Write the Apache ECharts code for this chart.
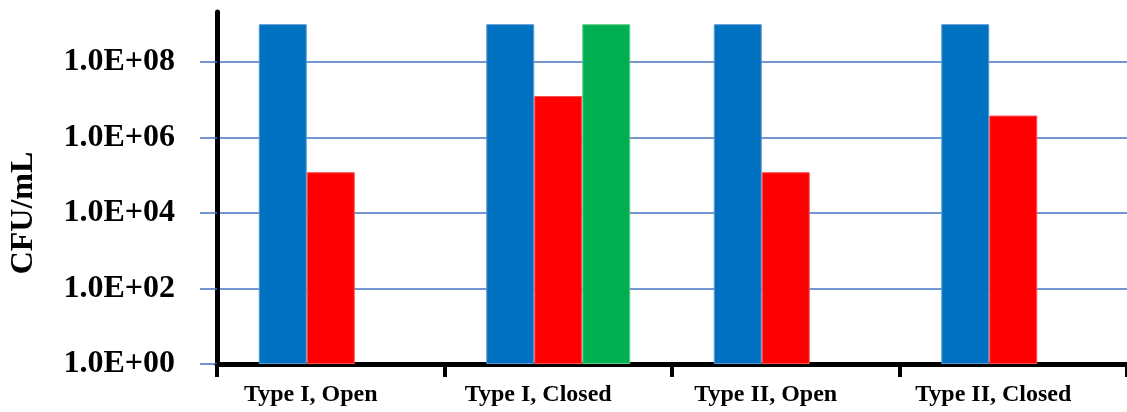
<!DOCTYPE html>
<html>
<head>
<meta charset="utf-8">
<script src="https://cdn.jsdelivr.net/npm/echarts@6/dist/echarts.min.js"></script>
<style>
html,body{margin:0;padding:0;background:#fff;}
#c{width:1127px;height:412px;}
</style>
</head>
<body>
<div id="c"></div>
<script>
var categories = ['Type I, Open', 'Type I, Closed', 'Type II, Open', 'Type II, Closed'];
var seriesBlue = [1.0e9, 1.0e9, 1.0e9, 1.0e9];
var seriesRed = [1.2e5, 1.25e7, 1.2e5, 3.8e6];
var seriesGreen = [null, 1.0e9, null, null];
var yTickExponents = [0, 2, 4, 6, 8];

function fmt(v) {
  var e = Math.round(Math.log10(v));
  var s = (e < 10 ? '0' : '') + e;
  return '1.0E+' + s;
}

var chart = echarts.init(document.getElementById('c'), null, {renderer: 'canvas'});
var FONT = 'Liberation Serif';
chart.setOption({
  animation: false,
  backgroundColor: '#ffffff',
  grid: {left: 216, right: -8, top: 12, bottom: 48, containLabel: false},
  xAxis: {
    type: 'category',
    data: categories,
    axisLine: {show: true, lineStyle: {color: '#000', width: 5}},
    axisTick: {show: true, length: 13, lineStyle: {color: '#000', width: 4}},
    axisLabel: {
      color: '#000', fontFamily: FONT, fontWeight: 'bold', fontSize: 24,
      margin: 19, padding: [0, 40, 0, 0]
    },
    splitLine: {show: false}
  },
  yAxis: {
    type: 'log',
    logBase: 10,
    min: 1,
    max: 2.1e9,
    interval: 2,
    name: 'CFU/mL',
    nameLocation: 'middle',
    nameRotate: 90,
    nameGap: 177,
    nameTextStyle: {color: '#000', fontFamily: FONT, fontWeight: 'bold', fontSize: 32, padding: [0, 50, 0, 0]},
    axisLine: {show: true, lineStyle: {color: '#000', width: 5}},
    axisTick: {show: true, inside: false, length: 17, lineStyle: {color: '#4472C4', width: 1.5}},
    axisLabel: {
      color: '#000', fontFamily: FONT, fontWeight: 'bold', fontSize: 32, margin: 42,
      showMaxLabel: false,
      formatter: fmt
    },
    splitLine: {show: true, showMaxLine: false, lineStyle: {color: '#4472C4', width: 1.5}}
  },
  series: [
    {name: 'Blue', type: 'bar', data: seriesBlue, barWidth: 48, barGap: '0%',
     itemStyle: {color: '#0070C0', borderColor: '#5B9BD5', borderWidth: 1}},
    {name: 'Red', type: 'bar', data: seriesRed, barWidth: 48, barGap: '0%',
     itemStyle: {color: '#FF0000', borderColor: '#FF5050', borderWidth: 1}},
    {name: 'Green', type: 'bar', data: seriesGreen, barWidth: 48, barGap: '0%',
     itemStyle: {color: '#00B050', borderColor: '#5CD08A', borderWidth: 1}}
  ]
});
</script>
</body>
</html>
